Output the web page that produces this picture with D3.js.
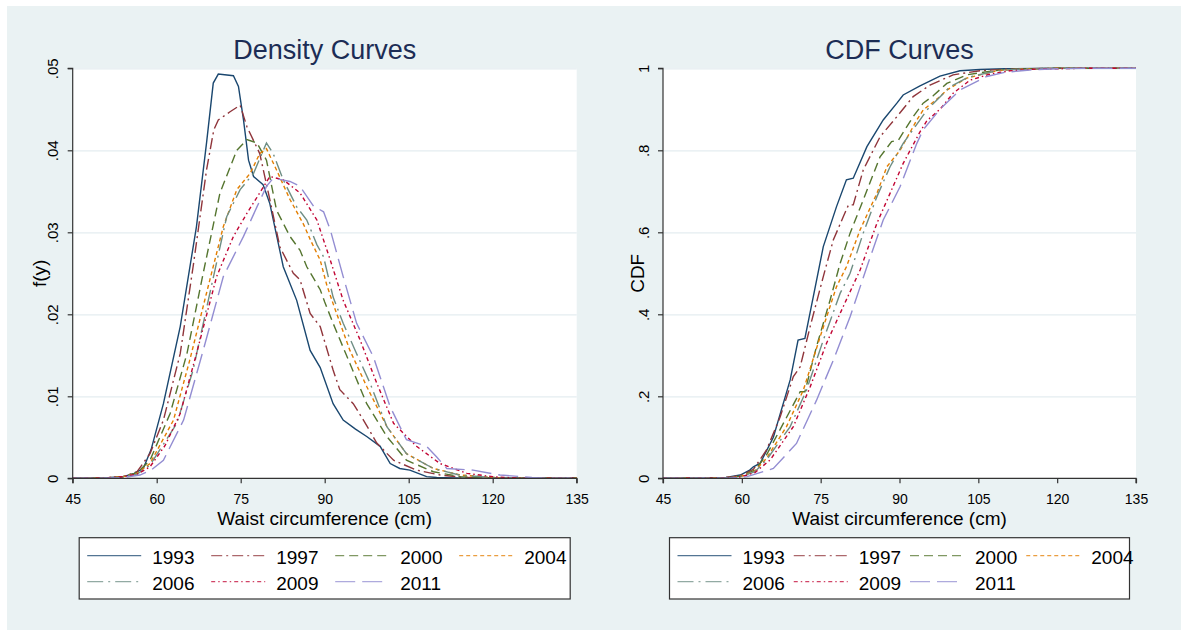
<!DOCTYPE html>
<html>
<head>
<meta charset="utf-8">
<script src="https://cdn.jsdelivr.net/npm/d3@7"></script>
<style>
  body { margin: 0; background: #fff; }
  svg { display: block; font-family: "Liberation Sans", Arial, sans-serif; }
</style>
</head>
<body>
<svg id="chart" width="1181" height="630"></svg>
<script>
// values: [waist cm, value]
const years = ['1993', '1997', '2000', '2004', '2006', '2009', '2011'];

const dens1993 = [[45,0],[50,0],[54,0.0002],[56,0.0006],[57.6,0.0012],[59,0.0035],[61.2,0.0091],[64.2,0.0185],[67.1,0.0307],[68.9,0.0409],[70.1,0.0482],[71,0.0493],[73.7,0.0491],[74.6,0.0478],[75.5,0.0437],[76.4,0.0388],[77.3,0.0368],[79,0.0358],[80.2,0.0335],[82.6,0.0258],[85,0.0217],[87.4,0.0156],[89.2,0.0135],[91.5,0.0091],[93.3,0.0071],[95.5,0.006],[97.5,0.0051],[99.9,0.0039],[101.7,0.0018],[103.4,0.0012],[105.2,0.001],[108.2,0.0002],[110,0.0001],[115,0],[135,0]];
const dens1997 = [[45,0],[50,0],[54,0.0002],[56.5,0.0008],[58.8,0.003],[61.2,0.0071],[64.2,0.0152],[66.5,0.0258],[68.9,0.0376],[70.2,0.0425],[71,0.0437],[73.1,0.0447],[74.9,0.0455],[76.1,0.0429],[78.4,0.0396],[80.2,0.034],[82,0.0282],[84.4,0.025],[85.6,0.0242],[87.4,0.0201],[89.2,0.0185],[91.5,0.0132],[92.7,0.0108],[95.1,0.0091],[97,0.007],[99.3,0.0043],[102.3,0.0022],[106.4,0.001],[110.6,0.0004],[115,0.0001],[120,0],[135,0]];
const dens2000 = [[45,0],[50,0],[54,0.0002],[56.5,0.0007],[58.8,0.0022],[62.4,0.0079],[65.4,0.0152],[68.3,0.025],[71.3,0.0348],[74.3,0.04],[76.1,0.0413],[77.9,0.0409],[79.6,0.0388],[81.4,0.0327],[83.8,0.0295],[85.6,0.0278],[86.8,0.0258],[89.2,0.023],[90,0.0215],[91.5,0.0189],[94.5,0.014],[97.5,0.0091],[101.1,0.0051],[104.6,0.0022],[109.4,0.0008],[114.2,0.0002],[120,0],[135,0]];
const dens2004 = [[45,0],[50,0],[54,0.0002],[56.5,0.0006],[58.8,0.0018],[63,0.0071],[65.9,0.0144],[68.9,0.0226],[71.9,0.0307],[74.3,0.0352],[76.7,0.0372],[78.4,0.0396],[79.6,0.0402],[81.4,0.0376],[83.8,0.034],[86.2,0.031],[87.5,0.029],[89.2,0.0266],[90.4,0.0235],[91.5,0.0213],[94.5,0.0156],[97.5,0.0112],[101.1,0.0063],[104.6,0.003],[109.4,0.0012],[114.2,0.0004],[120,0.0001],[125,0],[135,0]];
const dens2006 = [[45,0],[50,0],[54,0.0002],[56.5,0.0005],[58.8,0.0016],[63.6,0.0067],[66.5,0.0132],[69.5,0.0226],[72.5,0.0319],[74.9,0.0352],[77.3,0.0372],[79.6,0.0409],[80.8,0.0396],[82.6,0.0364],[85,0.0331],[86.8,0.0315],[88.6,0.0285],[89.8,0.027],[91.5,0.0221],[93.3,0.0189],[95.7,0.0152],[98.1,0.0116],[101.1,0.0063],[104.6,0.003],[109.4,0.0012],[114,0.0004],[120,0.0001],[125,0],[135,0]];
const dens2009 = [[45,0],[50,0],[54,0.0002],[56.5,0.0005],[58.8,0.0014],[61.5,0.004],[64.2,0.0079],[67.1,0.0152],[70.7,0.0246],[73.7,0.0295],[76.1,0.0323],[78.4,0.0348],[80.2,0.0368],[82.6,0.0364],[85.6,0.0348],[88.6,0.0315],[91,0.0266],[93.3,0.0217],[96.3,0.0169],[99.3,0.0116],[102.3,0.0067],[106.4,0.0039],[110.6,0.0018],[115.4,0.0006],[120,0.0002],[125,0],[135,0]];
const dens2011 = [[45,0],[50,0],[54,0.0001],[57,0.0004],[59,0.001],[61.2,0.0022],[64.8,0.0071],[68.3,0.0156],[71.9,0.0246],[75.5,0.0295],[77.9,0.0331],[79.6,0.0356],[80.8,0.0366],[83.8,0.0362],[85.6,0.0356],[88,0.0332],[89.8,0.0325],[91,0.0303],[93.3,0.0246],[95.7,0.0189],[98.7,0.0148],[101.7,0.0087],[104.6,0.0047],[108.2,0.0039],[110,0.0026],[111.8,0.0012],[116.5,0.001],[121.3,0.0004],[127,0.0001],[130,0],[135,0]];

const cdf1993 = [[45,0],[55,0],[57,0.002],[59.7,0.008],[61.5,0.02],[62.2,0.028],[63.5,0.037],[66,0.1],[69.2,0.24],[70.7,0.337],[72,0.341],[73.6,0.443],[75.5,0.565],[78,0.662],[79.9,0.728],[81.2,0.732],[83.8,0.809],[86.9,0.874],[89.5,0.915],[90.7,0.935],[93.9,0.957],[97.7,0.981],[101.5,0.994],[105.3,0.997],[110,0.999],[120,1],[135,1]];
const cdf1997 = [[45,0],[55,0],[58,0.003],[60,0.008],[62.2,0.022],[64.7,0.069],[67.3,0.15],[69.8,0.248],[71.1,0.272],[73,0.37],[75.5,0.492],[77.4,0.581],[79.3,0.638],[80.3,0.667],[81.2,0.667],[83.1,0.752],[86.3,0.833],[89.5,0.882],[92.6,0.931],[95.8,0.959],[100.2,0.984],[105.3,0.994],[110,0.998],[120,1],[135,1]];
const cdf2000 = [[45,0],[55,0],[58,0.002],[60,0.006],[62.5,0.02],[64.7,0.057],[67.9,0.134],[71.1,0.211],[72,0.211],[74.2,0.321],[76.8,0.435],[78.7,0.524],[80.6,0.598],[83.1,0.679],[86.3,0.784],[88.5,0.821],[89.8,0.825],[92.6,0.882],[94.5,0.915],[96.4,0.933],[99,0.963],[102.8,0.984],[107.8,0.994],[112,0.998],[120,1],[135,1]];
const cdf2004 = [[45,0],[55,0],[58,0.002],[60,0.005],[62.5,0.018],[64.7,0.049],[68.5,0.126],[71.7,0.215],[74.9,0.345],[78,0.467],[79.9,0.516],[82.5,0.606],[85.7,0.695],[87.6,0.76],[90.1,0.8],[93.3,0.874],[94.5,0.898],[97.7,0.931],[99,0.947],[102.8,0.976],[108.5,0.994],[113,0.998],[120,1],[135,1]];
const cdf2006 = [[45,0],[55,0],[58,0.002],[60,0.005],[62.5,0.016],[64.7,0.045],[69.2,0.126],[72.3,0.215],[75.5,0.337],[78.7,0.451],[80.6,0.5],[83.1,0.598],[85.7,0.687],[88.2,0.76],[90.7,0.817],[93.9,0.874],[95.2,0.898],[97.7,0.93],[99.6,0.955],[103,0.978],[108.5,0.994],[113,0.998],[120,1],[135,1]];
const cdf2009 = [[45,0],[55,0],[58,0.0015],[60,0.004],[62.5,0.014],[65.4,0.045],[69.8,0.126],[73,0.223],[76.1,0.329],[79.3,0.419],[82.5,0.508],[85.7,0.622],[88.2,0.695],[90.7,0.768],[93.9,0.845],[95.2,0.872],[97.7,0.9],[100.2,0.939],[103.4,0.971],[107,0.985],[111,0.994],[116,0.998],[125,1],[135,1]];
const cdf2011 = [[45,0],[55,0],[58,0.001],[61,0.004],[63,0.012],[66,0.024],[70.4,0.085],[74.2,0.19],[77.4,0.288],[80.6,0.394],[83.8,0.516],[86.9,0.63],[90.1,0.711],[93.3,0.817],[94.5,0.85],[97.7,0.9],[101.5,0.947],[106.6,0.98],[110,0.99],[114.8,0.996],[120,0.999],[125,1],[135,1]];

const xTicks = [45, 60, 75, 90, 105, 120, 135];
const densTicks = [0, 0.01, 0.02, 0.03, 0.04, 0.05];
const cdfTicks = [0, 0.2, 0.4, 0.6, 0.8, 1];

const densSeries = [dens1993, dens1997, dens2000, dens2004, dens2006, dens2009, dens2011];
const cdfSeries = [cdf1993, cdf1997, cdf2000, cdf2004, cdf2006, cdf2009, cdf2011];

// stata s2color pens
const colors = ['#1a476f', '#90353b', '#55752f', '#e37e00', '#6e8e84', '#c10534', '#938dd2'];
const dashes = [null, '11,4,2,4', '9,5', '4,3', '16,5,2,5', '4,3,1.5,3', '20,7'];

const svg = d3.select('#chart');

svg.append('rect')
    .attr('x', 7).attr('y', 6)
    .attr('width', 1174).attr('height', 624)
    .attr('fill', '#eaf2f3');

const plotTop = 68.3, plotBottom = 478.3;

const noLead = d => d === 0 ? '0' : d3.format('.2~f')(d).replace(/^0\./, '.');

const render = ({ x0, x1, title, yTitle, yTitleX, yTicks, yMax, series }) => {
    const x = d3.scaleLinear().domain([45, 135]).range([x0, x1]);
    const y = d3.scaleLinear().domain([0, yMax]).range([plotBottom, plotTop]);
    const w = x1 - x0;

    const g = svg.append('g');

    g.append('rect')
        .attr('x', x0).attr('y', plotTop)
        .attr('width', w).attr('height', plotBottom - plotTop)
        .attr('fill', '#fff');

    // grid
    const grid = g.append('g')
        .attr('transform', `translate(${x0},0)`)
        .call(d3.axisLeft(y).tickValues(yTicks.slice(1)).tickSize(-w).tickFormat(''));
    grid.select('.domain').remove();
    grid.selectAll('line').attr('stroke', '#e4edf0').attr('stroke-width', 1.3);

    const line = d3.line()
        .x(d => x(d[0]))
        .y(d => y(d[1]));

    g.selectAll('path.curve')
        .data(series)
        .join('path')
        .attr('class', 'curve')
        .attr('d', line)
        .attr('fill', 'none')
        .attr('stroke', (d, i) => colors[i])
        .attr('stroke-width', 1.4)
        .attr('stroke-dasharray', (d, i) => dashes[i]);

    // y axis
    const yAxisG = g.append('g')
        .attr('transform', `translate(${x0},0)`)
        .call(d3.axisLeft(y).tickValues(yTicks).tickSize(5).tickFormat(noLead));
    yAxisG.selectAll('text')
        .attr('transform', 'rotate(-90)')
        .attr('x', 0).attr('y', -14.5).attr('dy', 0)
        .attr('text-anchor', 'middle')
        .attr('font-size', 15)
        .attr('fill', '#000');

    // x axis
    const xAxisG = g.append('g')
        .attr('transform', `translate(0,${plotBottom})`)
        .call(d3.axisBottom(x).tickValues(xTicks).tickSize(5).tickPadding(11));
    xAxisG.selectAll('text')
        .attr('dy', 0)
        .attr('y', 26.2)
        .attr('font-size', 14)
        .attr('fill', '#000');

    [yAxisG, xAxisG].forEach(a => a.selectAll('.domain, .tick line')
        .attr('stroke', '#333')
        .attr('stroke-width', 1.2));
    yAxisG.select('.domain').attr('d', `M-5,${plotTop}H0V${plotBottom}H-5`);
    xAxisG.select('.domain').attr('d', `M${x0},5V0H${x1}V5`);

    g.append('text')
        .attr('x', (x0 + x1) / 2).attr('y', 525)
        .attr('text-anchor', 'middle')
        .attr('font-size', 19)
        .text('Waist circumference (cm)');

    g.append('text')
        .attr('transform', `translate(${yTitleX},${(plotTop + plotBottom) / 2}) rotate(-90)`)
        .attr('text-anchor', 'middle')
        .attr('font-size', 19)
        .text(yTitle);

    g.append('text')
        .attr('x', (x0 + x1) / 2).attr('y', 59)
        .attr('text-anchor', 'middle')
        .attr('font-size', 27)
        .attr('fill', '#1c2d55')
        .text(title);

    // legend
    const lx = x0 + 6.5, lw = w - 13;
    const step = (lw + 5) / 4;
    const leg = g.append('g').attr('transform', `translate(${lx},537.7)`);
    leg.append('rect')
        .attr('width', lw).attr('height', 61.3)
        .attr('fill', '#fff')
        .attr('stroke', '#333')
        .attr('stroke-width', 1.2);

    const item = leg.selectAll('g.item')
        .data(years)
        .join('g')
        .attr('class', 'item')
        .attr('transform', (d, i) => `translate(${8 + (i % 4) * step},${i < 4 ? 18 : 44})`);
    item.append('line')
        .attr('x1', 0).attr('x2', 54)
        .attr('stroke', (d, i) => colors[i])
        .attr('stroke-width', 1.3)
        .attr('stroke-opacity', 0.75)
        .attr('stroke-dasharray', (d, i) => dashes[i]);
    item.append('text')
        .attr('x', 65).attr('y', 8.5)
        .attr('font-size', 19)
        .text(d => d);
};

render({
    x0: 72.7, x1: 576.7,
    title: 'Density Curves',
    yTitle: 'f(y)', yTitleX: 46,
    yTicks: densTicks, yMax: 0.05,
    series: densSeries
});

render({
    x0: 663, x1: 1136,
    title: 'CDF Curves',
    yTitle: 'CDF', yTitleX: 644,
    yTicks: cdfTicks, yMax: 1,
    series: cdfSeries
});
</script>
</body>
</html>
